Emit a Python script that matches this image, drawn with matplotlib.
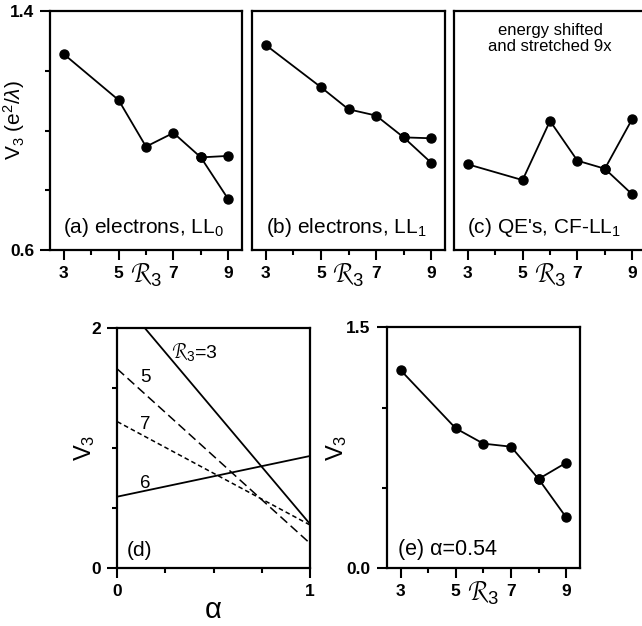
import matplotlib
matplotlib.use("Agg")
import matplotlib.pyplot as plt
import numpy as np

plt.rcParams['font.family'] = ['Liberation Sans', 'DejaVu Sans']
plt.rcParams['mathtext.fontset'] = 'custom'
plt.rcParams['mathtext.rm'] = 'Liberation Sans'
plt.rcParams['mathtext.it'] = 'Liberation Sans:italic'

# R3 values for main chain and branch
r_main = [3, 5, 6, 7, 8, 9]
r_branch = [8, 9]

# (a) electrons, LL0
a_main = [1.256, 1.102, 0.946, 0.992, 0.910, 0.770]
a_branch = [0.910, 0.915]
# (b) electrons, LL1
b_main = [1.286, 1.145, 1.071, 1.050, 0.977, 0.892]
b_branch = [0.977, 0.974]
# (c) QE's, CF-LL1 (shifted and stretched)
c_main = [0.887, 0.834, 1.032, 0.899, 0.872, 0.786]
c_branch = [0.872, 1.039]
# (e) alpha = 0.54
e_main = [1.234, 0.871, 0.776, 0.757, 0.556, 0.317]
e_branch = [0.556, 0.657]

# (d) V3 vs alpha, values at alpha = 0 and alpha = 1
alpha_pts = [0.0, 1.0]
d_r3 = [2.274, 0.369]
d_r5 = [1.661, 0.208]
d_r7 = [1.222, 0.361]
d_r6 = [0.597, 0.936]

W, H = 642, 626
fig = plt.figure(figsize=(W / 100, H / 100), dpi=100)


def ax_px(l, t, r, b):
    return fig.add_axes([l / W, 1 - b / H, (r - l) / W, (b - t) / H])


def style(ax):
    for s in ax.spines.values():
        s.set_linewidth(1.6)
    ax.tick_params(which='major', direction='out', length=7.5, width=1.5,
                   labelsize=12.5, pad=4)
    ax.tick_params(which='minor', direction='out', length=3.5, width=1.5)
    for lab in ax.get_xticklabels() + ax.get_yticklabels():
        lab.set_fontweight('bold')


def r3_axis(ax):
    ax.set_xlim(2.5, 9.5)
    ax.set_xticks([3, 5, 7, 9])
    ax.set_xticks([4, 6, 8], minor=True)
    ax.set_xticklabels(['3', '5', '7', '9'])
    ax.set_xlabel(r'$\mathcal{R}_3$', fontsize=19, labelpad=-14)


def chain(ax, main, branch):
    ax.plot(r_main, main, color='black', lw=1.3, marker='o', ms=6.5)
    ax.plot(r_branch, branch, color='black', lw=1.3, marker='o', ms=6.5)


# top row
axa = ax_px(50, 11, 242, 250)
axb = ax_px(252, 11, 445, 250)
axc = ax_px(454, 11, 646, 250)

for ax, m, br in [(axa, a_main, a_branch), (axb, b_main, b_branch),
                  (axc, c_main, c_branch)]:
    chain(ax, m, br)
    ax.set_ylim(0.6, 1.4)
    r3_axis(ax)

axa.set_yticks([0.6, 1.4])
axa.set_yticklabels(['0.6', '1.4'])
axa.set_yticks([0.8, 1.0, 1.2], minor=True)
fig.text(14 / W, 1 - 120 / H, r'V$_3$ (e$^2$/$\lambda$)', fontsize=15,
         rotation=90, ha='center', va='center')
for ax in (axb, axc):
    ax.set_yticks([])

axa.text(0.07, 0.045, r'(a) electrons, LL$_0$', transform=axa.transAxes,
         fontsize=15, ha='left', va='bottom')
axb.text(0.07, 0.045, r'(b) electrons, LL$_1$', transform=axb.transAxes,
         fontsize=15, ha='left', va='bottom')
axc.text(0.07, 0.045, r"(c) QE's, CF-LL$_1$", transform=axc.transAxes,
         fontsize=15, ha='left', va='bottom')
axc.text(0.5, 0.95, 'energy shifted\nand stretched 9x', transform=axc.transAxes,
         fontsize=12, ha='center', va='top', linespacing=1.1)

# (d)
axd = ax_px(117.3, 328.3, 310, 568.3)
axd.plot(alpha_pts, d_r3, color='black', lw=1.3)
axd.plot(alpha_pts, d_r5, color='black', lw=1.1, ls=(0, (6, 3)))
axd.plot(alpha_pts, d_r7, color='black', lw=1.1, ls=(0, (3, 2)))
axd.plot(alpha_pts, d_r6, color='black', lw=1.3)
axd.set_xlim(0, 1)
axd.set_ylim(0, 2)
axd.set_xticks([0, 1])
axd.set_xticks([0.25, 0.5, 0.75], minor=True)
axd.set_yticks([0, 2])
axd.set_yticks([0.5, 1.0, 1.5], minor=True)
axd.set_xticklabels(['0', '1'])
axd.set_yticklabels(['0', '2'])
axd.set_xlabel('α', fontsize=21, labelpad=-2)
axd.set_ylabel(r'V$_3$', fontsize=17, labelpad=-4)
axd.text(0.284, 1.805, r'$\mathcal{R}_3$=3', fontsize=14, ha='left', va='center')
axd.text(0.12, 1.586, '5', fontsize=13.5, ha='left', va='center')
axd.text(0.12, 1.20, '7', fontsize=13.5, ha='left', va='center')
axd.text(0.12, 0.71, '6', fontsize=13.5, ha='left', va='center')
axd.text(0.05, 0.15, '(d)', fontsize=15, ha='left', va='center')

# (e)
axe = ax_px(386.7, 327.3, 580, 568.3)
chain(axe, e_main, e_branch)
r3_axis(axe)
axe.set_ylim(0, 1.5)
axe.set_yticks([0, 1.5])
axe.set_yticklabels(['0.0', '1.5'])
axe.set_yticks([0.5, 1.0], minor=True)
axe.set_ylabel(r'V$_3$', fontsize=17, labelpad=-2)
axe.text(0.06, 0.114 / 1.5, '(e) α=0.54', transform=axe.transAxes,
         fontsize=15.5, ha='left', va='center')

for ax in (axa, axb, axc, axd, axe):
    style(ax)

fig.savefig('out.png', dpi=100)
